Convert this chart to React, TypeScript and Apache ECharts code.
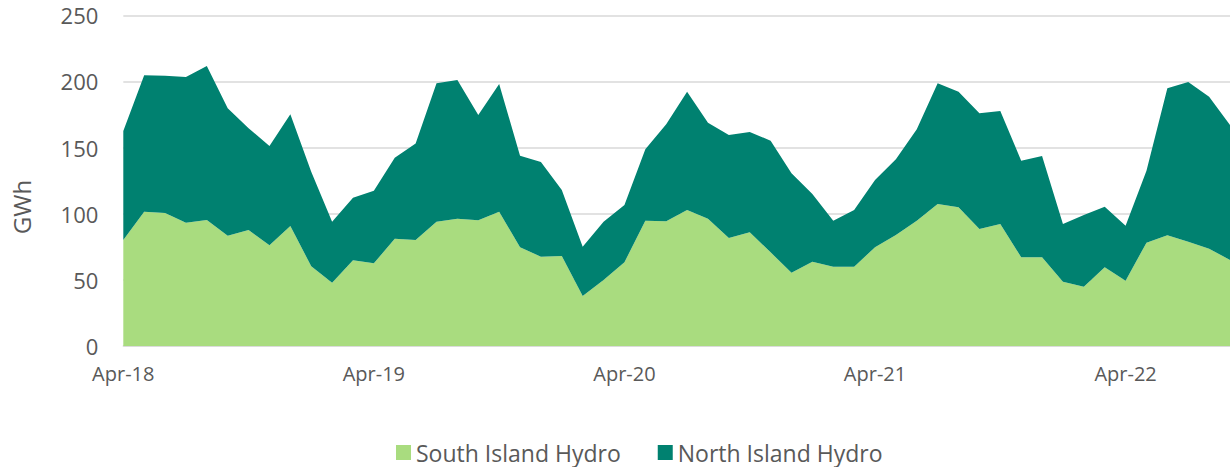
import React, { useEffect, useRef } from "react";
import * as echarts from "echarts";

const months: string[] = [
  "Apr-18", "May-18", "Jun-18", "Jul-18", "Aug-18", "Sep-18", "Oct-18", "Nov-18", "Dec-18", "Jan-19", "Feb-19", "Mar-19",
  "Apr-19", "May-19", "Jun-19", "Jul-19", "Aug-19", "Sep-19", "Oct-19", "Nov-19", "Dec-19", "Jan-20", "Feb-20", "Mar-20",
  "Apr-20", "May-20", "Jun-20", "Jul-20", "Aug-20", "Sep-20", "Oct-20", "Nov-20", "Dec-20", "Jan-21", "Feb-21", "Mar-21",
  "Apr-21", "May-21", "Jun-21", "Jul-21", "Aug-21", "Sep-21", "Oct-21", "Nov-21", "Dec-21", "Jan-22", "Feb-22", "Mar-22",
  "Apr-22", "May-22", "Jun-22", "Jul-22", "Aug-22", "Sep-22",
];

const southIsland: number[] = [
  80.1, 101.5, 100.6, 93.2, 95.3, 83.4, 87.7, 76.1, 90.7, 60.3, 47.9, 64.8,
  62.5, 81.1, 80.1, 94, 96.2, 95, 101.5, 74.6, 67.5, 68, 37.8, 49.9,
  63.3, 94.7, 94.3, 102.8, 96.2, 81.7, 86, 70.8, 55.4, 63.7, 60, 60,
  74.6, 83.9, 94.7, 107.4, 104.8, 88.5, 92.2, 67.1, 67.1, 48.6, 44.8, 59.5,
  49.4, 78.1, 83.7, 78.9, 73.6, 65,
];

const northIsland: number[] = [
  82.4, 103.1, 103.7, 110.2, 116.4, 96.3, 76.9, 75.1, 84.5, 71.5, 46.1, 47.3,
  54.9, 61.3, 72.9, 104.6, 104.9, 79.6, 96.6, 69.3, 71.6, 49.9, 37.3, 44.1,
  43.3, 54, 73.3, 89.5, 72.6, 77.8, 75.8, 84.4, 75.2, 51.3, 34.7, 42.8,
  50.9, 57.2, 69.1, 91.2, 87.5, 87.4, 85.5, 73, 76.5, 43.6, 54.2, 45.8,
  41.6, 54.4, 111.1, 120.7, 114.9, 102,
];

const seriesNames: string[] = ["South Island Hydro", "North Island Hydro"];
const FONT = "'Open Sans', 'Noto Sans', sans-serif";
const TEXT = "#595959";

export default function App() {
  const ref = useRef<HTMLDivElement>(null);
  useEffect(() => {
    if (!ref.current) return;
    const chart = echarts.init(ref.current, undefined, { renderer: "svg" });
    chart.setOption({
      animation: false,
      backgroundColor: "#ffffff",
      textStyle: { fontFamily: FONT },
      grid: { left: 123.3, right: -6.3, top: 15.3, bottom: 121, containLabel: false },
      legend: {
        left: 391,
        top: 436,
        padding: 5,
        itemWidth: 15,
        itemHeight: 15,
        itemGap: 37,
        icon: "rect",
        textStyle: { color: TEXT, fontSize: 23, fontFamily: FONT },
        data: seriesNames,
      },
      xAxis: {
        type: "category",
        boundaryGap: false,
        data: months,
        axisLine: { lineStyle: { color: "#d9d9d9", width: 1.5 } },
        axisTick: { show: false },
        axisLabel: {
          interval: (i: number) => i % 12 === 0,
          color: TEXT,
          fontSize: 20,
          margin: 17,
          fontFamily: FONT,
        },
        splitLine: { show: false },
      },
      yAxis: {
        type: "value",
        min: 0,
        max: 250,
        interval: 50,
        axisLine: { show: false },
        axisTick: { show: false },
        axisLabel: { color: TEXT, fontSize: 22, margin: 25, fontFamily: FONT },
        splitLine: { lineStyle: { color: "#d9d9d9", width: 1.5 } },
      },
      graphic: [
        {
          type: "text",
          x: 21,
          y: 207,
          rotation: Math.PI / 2,
          style: {
            text: "GWh",
            fill: TEXT,
            font: `24px ${FONT}`,
            textAlign: "center",
            textVerticalAlign: "middle",
          },
        },
      ],
      series: [
        {
          name: seriesNames[0],
          type: "line",
          stack: "hydro",
          data: southIsland,
          symbol: "none",
          lineStyle: { width: 0 },
          itemStyle: { color: "#a9dc7f" },
          areaStyle: { color: "#a9dc7f", opacity: 1 },
          z: 2,
        },
        {
          name: seriesNames[1],
          type: "line",
          stack: "hydro",
          data: northIsland,
          symbol: "none",
          lineStyle: { width: 0 },
          itemStyle: { color: "#008170" },
          areaStyle: { color: "#008170", opacity: 1 },
          z: 2,
        },
      ],
    });
    return () => chart.dispose();
  }, []);
  return (
    <div
      ref={ref}
      style={{ position: "fixed", left: 0, top: 0, width: 1230, height: 467 }}
    />
  );
}
